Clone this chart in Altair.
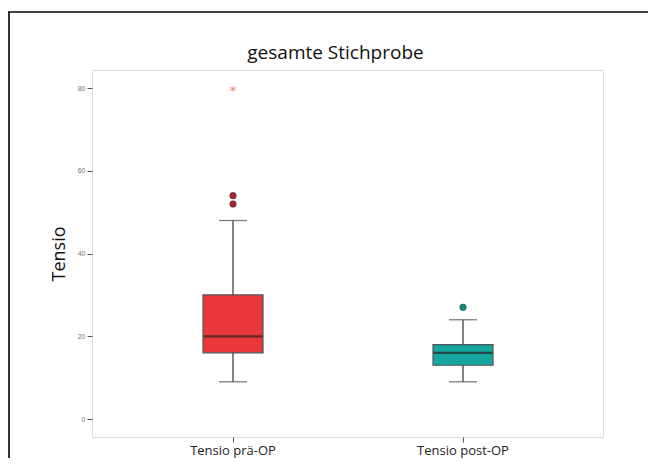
import altair as alt
import pandas as pd

groups = ["Tensio prä-OP", "Tensio post-OP"]
whisker_low = [9, 9]
q1 = [16, 13]
median = [20, 16]
q3 = [30, 18]
whisker_high = [48, 24]
box_colors = ["#E9373B", "#14A69F"]
outlier_colors = ["#A3262C", "#13877F"]

outlier_group = ["Tensio prä-OP", "Tensio prä-OP", "Tensio post-OP"]
outlier_value = [52, 54, 27]
extreme_group = ["Tensio prä-OP"]
extreme_value = [80]

stats = pd.DataFrame({
    "group": groups, "lo": whisker_low, "q1": q1, "med": median,
    "q3": q3, "hi": whisker_high, "color": box_colors, "ocolor": outlier_colors,
})
outl = pd.DataFrame({"group": outlier_group, "value": outlier_value})
outl["ocolor"] = outl["group"].map(dict(zip(groups, outlier_colors)))
extr = pd.DataFrame({"group": extreme_group, "value": extreme_value})

FONT = "Open Sans, sans-serif"

xenc = alt.X("group:N", sort=groups,
             scale=alt.Scale(domain=groups, range=[26, 486], paddingInner=0, paddingOuter=0),
             axis=alt.Axis(title=None, labelAngle=0, labelFontSize=13, labelColor="#222",
                           labelFont=FONT, tickSize=5, tickColor="#555", domain=False,
                           labelPadding=2))
yscale = alt.Scale(domain=[-4.35, 84.4], nice=False, zero=False)
yaxis = alt.Axis(title="Tensio", values=[0, 20, 40, 60, 80], grid=False, tickSize=5,
                 tickColor="#555", labelFontSize=7, labelColor="#777", labelPadding=2,
                 titleFontSize=18, titleFont=FONT, titleFontWeight="normal",
                 titleColor="#111", titlePadding=9, domain=False)

base = alt.Chart(stats)

whiskers = base.mark_rule(color="#444", strokeWidth=1.3).encode(
    x=xenc, y=alt.Y("lo:Q", scale=yscale, axis=yaxis), y2="hi:Q")
caps_lo = base.mark_tick(color="#444", size=28, thickness=1.3).encode(
    x=alt.X("group:N", sort=groups), y="lo:Q")
caps_hi = base.mark_tick(color="#444", size=28, thickness=1.3).encode(
    x=alt.X("group:N", sort=groups), y="hi:Q")
boxes = base.mark_bar(size=60, stroke="#555", strokeWidth=1.2).encode(
    x=alt.X("group:N", sort=groups), y="q1:Q", y2="q3:Q",
    color=alt.Color("color:N", scale=None))
meds = base.mark_tick(color="#222", size=59, thickness=2.2).encode(
    x=alt.X("group:N", sort=groups), y="med:Q")
outs = alt.Chart(outl).mark_circle(size=45, opacity=1, stroke="#333", strokeWidth=0.4).encode(
    x=alt.X("group:N", sort=groups), y="value:Q",
    color=alt.Color("ocolor:N", scale=None))
stars = alt.Chart(extr).mark_text(text="*", fontSize=13, color="#F08080", dy=3,
                                  font="DejaVu Sans").encode(
    x=alt.X("group:N", sort=groups), y="value:Q")

one = pd.DataFrame({"k": [0]})
frame_top = alt.Chart(one).mark_rule(color="#000", strokeWidth=1.6, clip=False).encode(
    x=alt.value(-84), x2=alt.value(560), y=alt.value(-58))
frame_left = alt.Chart(one).mark_rule(color="#000", strokeWidth=1.6, clip=False).encode(
    x=alt.value(-83), y=alt.value(-58), y2=alt.value(400))

chart = alt.layer(frame_top, frame_left, whiskers, caps_lo, caps_hi, boxes, meds, outs, stars).properties(
    width=511, height=367,
    title=alt.TitleParams("gesamte Stichprobe", fontSize=19, font=FONT,
                          fontWeight="normal", color="#111", offset=-52, frame="group", dx=-12),
    padding={"left": 84, "top": 62, "right": 45, "bottom": 21},
    autosize=alt.AutoSizeParams(type="none"),
).configure_view(fill="#EFEFEF", stroke="#777", strokeWidth=1.5).configure(background="white")

chart.save("out.html", embed_options={"renderer": "svg", "actions": False})
